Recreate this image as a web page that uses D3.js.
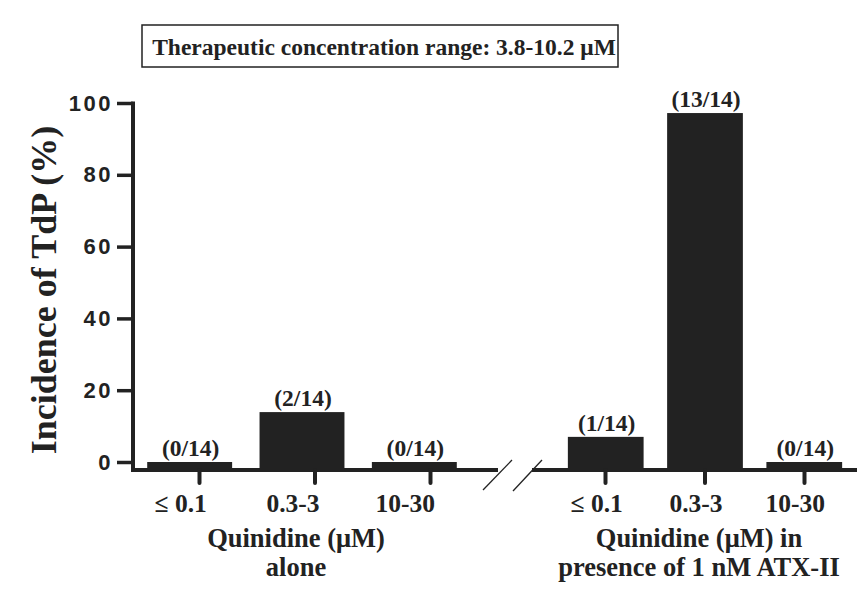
<!DOCTYPE html>
<html lang="en">
<head>
<meta charset="utf-8">
<title>Incidence of TdP</title>
<script type="text/javascript" src="https://cdnjs.cloudflare.com/ajax/libs/d3/7.8.5/d3.min.js"></script>
<style>
body{margin:0;background:#fff;}
</style>
</head>
<body>
<script type="text/javascript">
// data
var categories=["≤ 0.1","0.3-3","10-30"];
var aloneValues=[0,13.9,0];          // % incidence, quinidine alone
var atxValues=[7.0,97.2,0];          // % incidence, with 1 nM ATX-II
var aloneCounts=["(0/14)","(2/14)","(0/14)"];
var atxCounts=["(1/14)","(13/14)","(0/14)"];
var yTicks=[0,20,40,60,80,100];

var w=867, h=600;
var ink="#222";
var serif="'Liberation Serif','Times New Roman',serif";
var sans="'Liberation Sans',Arial,sans-serif";

var svg=d3.select("body").append("svg")
  .attr("width",w).attr("height",h);

var base=470; // x axis line
var y=d3.scaleLinear().domain([0,100]).range([462,103]);

// left group (alone) and right group (ATX-II)
var xL=d3.scaleBand().domain(categories).range([133.5,470.5])
  .paddingInner(0.244).paddingOuter(0.122);
var xR=d3.scaleBand().domain(categories).range([548,862])
  .paddingInner(0.237).paddingOuter(0.2);
// tick marks (left group ticks sit right of the bar centres in the original)
var tL=d3.scalePoint().domain(categories).range([199,430]);
var tR=d3.scalePoint().domain(categories).range([605,804]);

// title box
svg.append("rect").attr("x",142).attr("y",25).attr("width",476).attr("height",42)
  .attr("fill","none").attr("stroke",ink).attr("stroke-width",1.5);
svg.append("text").attr("x",384).attr("y",55).attr("text-anchor","middle")
  .attr("font-family",serif).attr("font-weight","bold").attr("font-size","23.5px")
  .attr("fill",ink).text("Therapeutic concentration range: 3.8-10.2 μM");

// y axis
var yAxis=d3.axisLeft(y).tickValues(yTicks).tickSize(16).tickPadding(6);
var gy=svg.append("g").attr("transform","translate(133,0)").call(yAxis);
gy.select(".domain").remove();
gy.selectAll(".tick line").attr("stroke",ink).attr("stroke-width",3.5);
gy.selectAll(".tick text").attr("font-family",sans).attr("font-weight","bold")
  .attr("font-size","22px").attr("letter-spacing","2.5px").attr("fill",ink)
  .attr("dx","2px");
svg.append("line").attr("x1",133).attr("x2",133).attr("y1",y(100)-1.5).attr("y2",base+2)
  .attr("stroke",ink).attr("stroke-width",4);

svg.append("text")
  .attr("transform","translate(56,290) rotate(-90)")
  .attr("text-anchor","middle")
  .attr("font-family",serif).attr("font-weight","bold").attr("font-size","36px")
  .attr("fill",ink).text("Incidence of TdP (%)");

// x axis segments with break
svg.append("line").attr("x1",131).attr("x2",498).attr("y1",base).attr("y2",base)
  .attr("stroke",ink).attr("stroke-width",4);
svg.append("line").attr("x1",532).attr("x2",857).attr("y1",base).attr("y2",base)
  .attr("stroke",ink).attr("stroke-width",4);
[[483,490,512,460],[513,491,542,460]].forEach(function(s){
  svg.append("line").attr("x1",s[0]).attr("y1",s[1]).attr("x2",s[2]).attr("y2",s[3])
    .attr("stroke",ink).attr("stroke-width",1.3);
});

function drawGroup(x,t,values,counts,labels){
  var g=svg.append("g");
  g.selectAll("rect").data(values).enter().append("rect")
    .attr("x",function(d,i){return x(categories[i]);})
    .attr("y",function(d){return y(d);})
    .attr("width",x.bandwidth())
    .attr("height",function(d){return base-y(d);})
    .attr("fill",ink);
  g.selectAll("text.count").data(counts).enter().append("text")
    .attr("class","count")
    .attr("x",function(d,i){return x(categories[i])+x.bandwidth()/2+1;})
    .attr("y",function(d,i){return y(values[i])-6;})
    .attr("text-anchor","middle")
    .attr("font-family",serif).attr("font-weight","bold").attr("font-size","23.5px")
    .attr("fill",ink).text(function(d){return d;});
  // tick marks below axis
  var ax=d3.axisBottom(t).tickSize(13).tickFormat("");
  var ga=svg.append("g").attr("transform","translate(0,"+base+")").call(ax);
  ga.select(".domain").remove();
  ga.selectAll(".tick line").attr("stroke",ink).attr("stroke-width",4)
    .attr("stroke-linecap","round");
  // category labels
  g.selectAll("text.cat").data(categories).enter().append("text")
    .attr("class","cat")
    .attr("x",function(d){return x(d)+x.bandwidth()/2-9;})
    .attr("y",512)
    .attr("text-anchor","middle")
    .attr("font-family",serif).attr("font-weight","bold").attr("font-size","25.5px")
    .attr("fill",ink).text(function(d){return d;});
  // group label
  var cx=x(categories[1])+x.bandwidth()/2-6;
  labels.forEach(function(l,i){
    g.append("text").attr("x",cx).attr("y",547+i*29)
      .attr("text-anchor","middle")
      .attr("font-family",serif).attr("font-weight","bold").attr("font-size","26.5px")
      .attr("fill",ink).text(l);
  });
}

drawGroup(xL,tL,aloneValues,aloneCounts,["Quinidine (μM)","alone"]);
drawGroup(xR,tR,atxValues,atxCounts,["Quinidine (μM) in","presence of 1 nM ATX-II"]);
</script>
</body>
</html>
